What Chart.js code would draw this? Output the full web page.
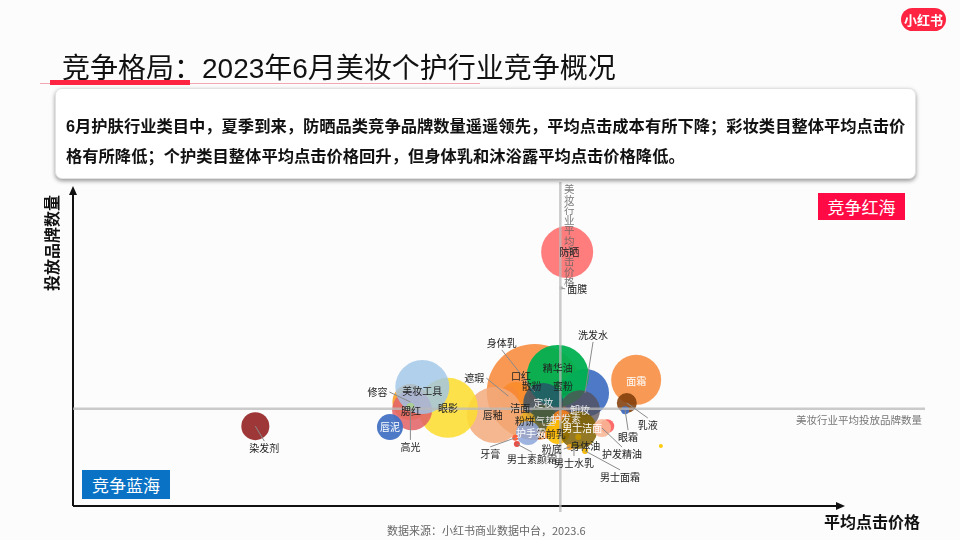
<!DOCTYPE html>
<html lang="zh">
<head>
<meta charset="utf-8">
<title>竞争格局</title>
<script src="https://cdn.jsdelivr.net/npm/chart.js@4.4.0/dist/chart.umd.min.js"></script>
<style>
  body { margin: 0; background: #fcfcfc; font-family: "Liberation Sans", "Noto Sans CJK SC", sans-serif; }
  .page { position: relative; width: 960px; height: 540px; overflow: hidden; }
  #bubbleChart { position: absolute; left: 0; top: 0; z-index: 0; }
  .logo { position: absolute; left: 901px; top: 8px; width: 45px; height: 23px; border-radius: 12px; background: #ff2442;
          color: #fff; font: bold 13px "Noto Sans CJK SC"; line-height: 23px; text-align: center; z-index: 2; }
  .title { position: absolute; left: 62px; top: 46px; margin: 0; font: 28px "Liberation Sans", "Noto Sans CJK SC"; color: #111; white-space: nowrap; z-index: 2; }
  .pink-line { position: absolute; left: 40px; top: 83px; width: 440px; height: 1px; background: #f3a6b4; z-index: 2; }
  .red-line { position: absolute; left: 50px; top: 80px; width: 140px; height: 5px; background: #ff2442; z-index: 2; }
  .note { position: absolute; left: 55px; top: 88px; width: 861px; height: 91px; background: #fff; border-radius: 7px;
          box-shadow: 0 2px 4px rgba(0,0,0,0.4); border: 1px solid #e2e2e2; z-index: 2; box-sizing: border-box;
          padding: 22px 0 0 10px; font: bold 16.3px "Liberation Sans", "Noto Sans CJK SC"; line-height: 30px; color: #111; white-space: nowrap; }
  .quad { position: absolute; color: #fff; font: 17px "Noto Sans CJK SC"; text-align: center; z-index: 2; }
  .quad.red { left: 818px; top: 193px; width: 87px; height: 27px; line-height: 27px; background: #ff0a45; }
  .quad.blue { left: 82px; top: 470px; width: 88px; height: 29px; line-height: 29px; background: #0a72c4; }
  .axis-y { position: absolute; left: 0px; top: 233px; width: 100px; height: 20px; line-height: 20px; text-align: center;
            transform: translate(-1px, 0) rotate(-90deg); font: bold 16px "Noto Sans CJK SC"; color: #111; z-index: 2; white-space: nowrap; }
  .axis-x { position: absolute; left: 824px; top: 509px; font: bold 16px "Noto Sans CJK SC"; color: #111; z-index: 2; }
  .source { position: absolute; left: 387px; top: 522px; font: 11px "Noto Sans CJK SC"; color: #666; z-index: 2; }
</style>
</head>
<body>
<div class="page">
  <div class="logo">小红书</div>
  <h1 class="title">竞争格局：2023年6月美妆个护行业竞争概况</h1>
  <div class="pink-line"></div>
  <div class="red-line"></div>
  <div class="note">6月护肤行业类目中，夏季到来，防晒品类竞争品牌数量遥遥领先，平均点击成本有所下降；彩妆类目整体平均点击价<br>格有所降低；个护类目整体平均点击价格回升，但身体乳和沐浴露平均点击价格降低。</div>
  <canvas id="bubbleChart" width="960" height="540"></canvas>
  <div class="quad red">竞争红海</div>
  <div class="quad blue">竞争蓝海</div>
  <div class="axis-y">投放品牌数量</div>
  <div class="axis-x">平均点击价格</div>
  <div class="source">数据来源：小红书商业数据中台，2023.6</div>
</div>

<script>
// categories in drawing order (big ones first)
const categories = ['身体乳', '口红', '遮瑕', '洁面', '散粉', '唇釉', '眼影', '修容', '腮红', '美妆工具', '高光', '唇泥', '染发剂',
  '洗发水', '精华油', '蜜粉', '防晒', '面膜', '定妆', '卸妆', '气垫', '粉饼', '护发素', '妆前乳', '男士洁面', '护手霜',
  '牙膏', '男士素颜霜', '粉底', '身体油', '男士水乳', '男士面霜', '沐浴露', '护发精油', '面霜', '乳液', '眼霜', '其他'];

// average click price (index)
const avgClickPrice = [54.2, 52.0, 51.1, 52.5, 54.2, 49.5, 44.0, 39.6, 39.8, 41.0, 39.6, 37.2, 21.4,
  60.1, 56.9, 57.4, 58.0, 57.3, 55.2, 59.5, 55.2, 53.3, 57.4, 56.9, 59.3, 53.4,
  51.9, 52.1, 58.3, 59.3, 58.8, 60.1, 62.7, 62.1, 66.1, 65.0, 64.8, 69.0];

// number of advertising brands (index)
const brandCount = [35.0, 33.1, 33.7, 28.8, 34.0, 27.9, 30.1, 31.9, 29.4, 36.5, 30.4, 24.2, 24.5,
  34.7, 39.9, 36.2, 77.9, 66.9, 31.6, 29.4, 27.0, 26.4, 26.4, 22.7, 23.3, 22.4,
  20.9, 19.0, 18.1, 21.2, 18.4, 16.9, 24.5, 23.9, 38.7, 31.6, 29.4, 18.4];

// bubble size
const bubbleSize = [48, 16, 10, 10, 6, 28, 30, 18, 20, 27, 4, 13, 14,
  24, 31, 8, 26, 2, 20, 20, 13, 8, 10, 12, 19, 12,
  3, 3, 3, 3, 3, 3, 7, 9, 25, 10, 4, 2];

const industryAvgPrice = 57.2;
const industryAvgBrands = 29.8;

const bubbleColors = {
  '身体乳': 'rgba(247,138,58,0.88)', '口红': 'rgba(250,140,40,0.85)', '遮瑕': 'rgba(247,138,58,0.85)', '洁面': 'rgba(250,150,50,0.85)',
  '散粉': 'rgba(240,120,40,0.8)', '唇釉': 'rgba(242,170,125,0.85)', '眼影': 'rgba(253,221,50,0.88)', '修容': 'rgba(248,160,40,0.9)',
  '腮红': 'rgba(226,100,105,0.88)', '美妆工具': 'rgba(160,198,232,0.82)', '高光': 'rgba(169,209,142,0.9)', '唇泥': 'rgba(68,114,196,0.95)',
  '染发剂': 'rgba(150,38,38,0.92)', '洗发水': 'rgba(68,114,196,0.95)', '精华油': 'rgba(0,176,80,0.95)', '蜜粉': 'rgba(0,160,75,0.9)',
  '防晒': 'rgba(255,96,96,0.82)', '面膜': 'rgba(200,200,200,0.9)', '定妆': 'rgba(40,78,108,0.78)', '卸妆': 'rgba(85,78,85,0.75)',
  '气垫': 'rgba(70,92,52,0.8)', '粉饼': 'rgba(232,176,40,0.8)', '护发素': 'rgba(245,130,30,0.9)', '妆前乳': 'rgba(255,190,0,0.9)',
  '男士洁面': 'rgba(128,98,0,0.85)', '护手霜': 'rgba(143,168,220,0.88)', '牙膏': 'rgba(255,90,50,0.95)', '男士素颜霜': 'rgba(230,70,60,0.95)',
  '粉底': 'rgba(240,160,40,0.95)', '身体油': 'rgba(190,145,0,0.95)', '男士水乳': 'rgba(160,128,0,0.95)', '男士面霜': 'rgba(245,184,0,0.95)',
  '沐浴露': 'rgba(255,90,90,0.9)', '护发精油': 'rgba(248,182,150,0.88)', '面霜': 'rgba(247,140,62,0.88)', '乳液': 'rgba(130,62,10,0.88)',
  '眼霜': 'rgba(68,114,196,0.95)', '其他': 'rgba(255,200,0,0.95)'
};

// label offset from bubble centre (px), leader line flag, text colour
const labelLayout = {
  '身体乳': [-33, -49, true], '口红': [5, -22], '遮瑕': [-34, -18, true], '洁面': [0, -4], '散粉': [-3, -9],
  '唇釉': [-2, 0], '眼影': [0, 0], '修容': [-33, -10, true], '腮红': [-1, 1], '美妆工具': [0, 4],
  '高光': [0, 40, true], '唇泥': [0, 0, false, '#fff'], '染发剂': [9, 22, true], '洗发水': [8, -58, true],
  '精华油': [0, -8], '蜜粉': [1, -2], '防晒': [2, 0], '面膜': [16, 1, true], '定妆': [0, 0, false, '#e8e8e8'],
  '卸妆': [0, 0, false, '#eee'], '气垫': [2, 3, false, '#ddd'], '粉饼': [-2, 1], '护发素': [4, -1, false, '#eee'],
  '妆前乳': [-7, 2], '男士洁面': [4, -2, false, '#fff'], '护手霜': [3, 0, false, '#fff'], '牙膏': [-25, 16, true],
  '男士素颜霜': [15, 15, true], '粉底': [-18, 2, true], '身体油': [7, 9], '男士水乳': [0, 17, true],
  '男士面霜': [35, 26, true], '护发精油': [20, 26, true], '面霜': [0, 1, false, '#fff'], '乳液': [21, 22, true],
  '眼霜': [3, 27, true]
};

const axesPlugin = {
  id: 'axes',
  beforeDatasetsDraw(chart) {
    const { ctx, chartArea } = chart;
    const ox = chartArea.left, oy = chartArea.bottom;
    const xEnd = ox + 772, yEnd = chartArea.top + 6;
    ctx.save();
    ctx.strokeStyle = '#111';
    ctx.fillStyle = '#111';
    ctx.lineWidth = 2;
    ctx.beginPath();
    ctx.moveTo(ox, oy);
    ctx.lineTo(ox, yEnd + 6);
    ctx.moveTo(ox, oy);
    ctx.lineTo(xEnd - 6, oy);
    ctx.stroke();
    ctx.beginPath();
    ctx.moveTo(ox, yEnd);
    ctx.lineTo(ox - 4, yEnd + 9);
    ctx.lineTo(ox + 4, yEnd + 9);
    ctx.closePath();
    ctx.moveTo(xEnd, oy);
    ctx.lineTo(xEnd - 9, oy - 4);
    ctx.lineTo(xEnd - 9, oy + 4);
    ctx.closePath();
    ctx.fill();
    ctx.restore();
  }
};

// average lines sit on top of the bubbles, like in the slide
const guidePlugin = {
  id: 'guides',
  afterDatasetsDraw(chart) {
    const { ctx, chartArea, scales } = chart;
    const gx = scales.x.getPixelForValue(industryAvgPrice);
    const gy = scales.y.getPixelForValue(industryAvgBrands);
    ctx.save();
    ctx.strokeStyle = 'rgba(185,185,185,0.75)';
    ctx.lineWidth = 2.5;
    ctx.beginPath();
    ctx.moveTo(gx, chartArea.top + 2);
    ctx.lineTo(gx, chartArea.bottom + 6);
    ctx.moveTo(chartArea.left, gy);
    ctx.lineTo(chartArea.right, gy);
    ctx.stroke();

    ctx.fillStyle = 'rgba(100,100,100,0.85)';
    ctx.font = '10.5px "Noto Sans CJK SC"';
    ctx.textAlign = 'center';
    ctx.textBaseline = 'top';
    const vText = '美妆行业平均点击价格';
    for (let i = 0; i < vText.length; i++) {
      ctx.fillText(vText[i], gx + 9, chartArea.top + 4 + i * 10.3);
    }
    ctx.fillStyle = '#777';
    ctx.textAlign = 'right';
    ctx.fillText('美妆行业平均投放品牌数量', chartArea.right - 3, gy + 6);
    ctx.restore();
  }
};

const labelPlugin = {
  id: 'bubbleLabels',
  afterDatasetsDraw(chart) {
    const { ctx } = chart;
    const meta = chart.getDatasetMeta(0);
    ctx.save();
    ctx.font = '10px "Noto Sans CJK SC"';
    ctx.textAlign = 'center';
    ctx.textBaseline = 'middle';
    categories.forEach((name, i) => {
      const layout = labelLayout[name];
      if (!layout) return;
      const pt = meta.data[i];
      const [dx, dy, leader, color] = layout;
      const lx = pt.x + dx, ly = pt.y + dy;
      if (leader) {
        const w = ctx.measureText(name).width / 2 + 2;
        const h = 7;
        let sx = lx, sy = ly;
        if (Math.abs(dx) / w > Math.abs(dy) / h) {
          sx = lx + (dx > 0 ? -w : w);
        } else {
          sy = ly + (dy > 0 ? -h : h);
        }
        ctx.strokeStyle = '#8a8a8a';
        ctx.lineWidth = 1;
        ctx.beginPath();
        ctx.moveTo(sx, sy);
        ctx.lineTo(pt.x, pt.y);
        ctx.stroke();
      }
      ctx.fillStyle = color || '#222';
      ctx.fillText(name, lx, ly);
    });
    ctx.restore();
  }
};

document.addEventListener('DOMContentLoaded', function() {
  const ctx = document.getElementById('bubbleChart');
  new Chart(ctx.getContext('2d'), {
    type: 'bubble',
    data: {
      datasets: [{
        label: '美妆个护品类',
        data: categories.map((name, i) => ({ x: avgClickPrice[i], y: brandCount[i], r: bubbleSize[i] })),
        backgroundColor: categories.map(name => bubbleColors[name]),
        borderWidth: 0,
        clip: false
      }]
    },
    options: {
      responsive: false,
      animation: false,
      layout: { autoPadding: false, padding: { left: 73, right: 35, top: 180, bottom: 34 } },
      scales: {
        x: { type: 'linear', min: 0, max: 100, display: false },
        y: { type: 'linear', min: 0, max: 100, display: false }
      },
      plugins: {
        legend: { display: false },
        tooltip: { enabled: false }
      }
    },
    plugins: [axesPlugin, guidePlugin, labelPlugin]
  });
});
</script>
</body>
</html>
